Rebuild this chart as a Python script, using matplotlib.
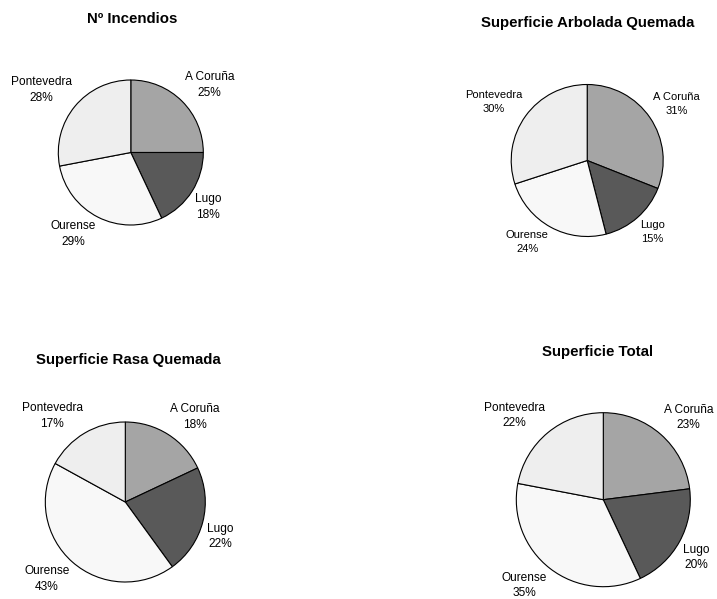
import matplotlib
matplotlib.use("Agg")
import matplotlib.pyplot as plt
import numpy as np

plt.rcParams["font.family"] = ["Liberation Sans", "DejaVu Sans"]

provincias = ["A Coruña", "Lugo", "Ourense", "Pontevedra"]
colores = ["#a5a5a5", "#595959", "#f8f8f8", "#eeeeee"]

incendios = [25, 18, 29, 28]
arbolada = [31, 15, 24, 30]
rasa = [18, 22, 43, 17]
total = [23, 20, 35, 22]

titulos = [
    "Nº Incendios",
    "Superficie Arbolada Quemada",
    "Superficie Rasa Quemada",
    "Superficie Total",
]
series = [incendios, arbolada, rasa, total]

W, H = 717, 599
# pixel layout: pie centre, radius, title centre, label size
layout = [
    dict(c=(130.8, 152.5), r=72.5, t=(132, 19), fs=8.6),
    dict(c=(587.2, 160.5), r=76.0, t=(588, 23), fs=8.0),
    dict(c=(125.3, 502.0), r=80.0, t=(128, 360), fs=8.6),
    dict(c=(603.3, 499.7), r=87.0, t=(598, 352), fs=8.6),
]

fig = plt.figure(figsize=(W / 100, H / 100), dpi=100)
ax = fig.add_axes([0, 0, 1, 1])

for titulo, valores, lay in zip(titulos, series, layout):
    cx, cy = lay["c"][0], H - lay["c"][1]
    r = lay["r"]
    wedges, _ = ax.pie(
        valores,
        colors=colores,
        startangle=90,
        counterclock=False,
        center=(cx, cy),
        radius=r,
        wedgeprops=dict(edgecolor="black", linewidth=0.8),
    )
    for w, nombre, v in zip(wedges, provincias, valores):
        ang = np.deg2rad((w.theta1 + w.theta2) / 2)
        dx, dy = np.cos(ang), np.sin(ang)
        x = cx + dx * r * 1.05
        y = cy + dy * r * 1.05
        ax.text(
            x, y, f"{nombre}\n{v}%",
            ha="left" if dx > 0 else "right",
            va="bottom" if dy > 0 else "top",
            multialignment="center",
            linespacing=1.4,
            fontsize=lay["fs"],
            color="black",
        )
    tx, ty = lay["t"]
    ax.text(tx, H - ty, titulo, ha="center", va="center",
            fontsize=10.8, fontweight="bold")

ax.set_xlim(0, W)
ax.set_ylim(0, H)
ax.set_aspect("equal")
ax.axis("off")

fig.savefig("out.png", dpi=100, facecolor="white")
